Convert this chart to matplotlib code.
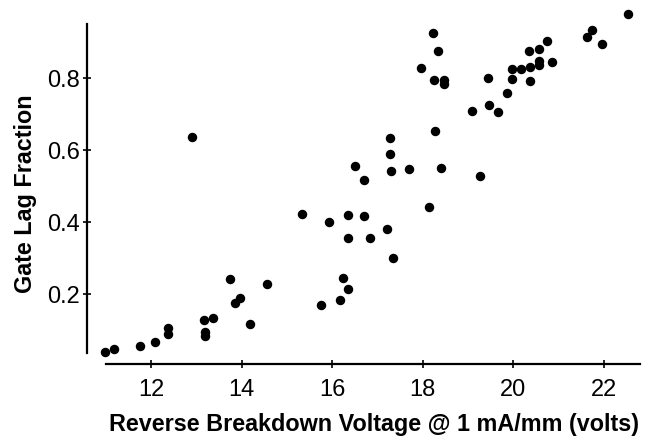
import matplotlib
matplotlib.use("Agg")
import matplotlib.pyplot as plt
import numpy as np

plt.rcParams['font.family'] = ['Liberation Sans', 'DejaVu Sans']

# reverse breakdown voltage (V) and gate lag fraction
voltage = [10.98, 11.19, 11.77, 12.09, 12.37, 12.37, 13.18, 13.37, 13.19, 13.19,
           13.75, 13.86, 13.97, 14.19, 14.57, 12.90, 15.33, 15.76, 15.94, 16.34,
           16.71, 16.34, 16.83, 17.22, 17.34, 16.24, 16.35, 16.18, 16.51, 16.71,
           17.28, 17.28, 17.30, 17.69, 18.13, 18.28, 18.41, 18.23, 18.34, 17.96,
           18.25, 18.47, 18.47, 19.27, 19.09, 19.45, 19.47, 19.67, 19.86, 19.97,
           20.16, 20.37, 19.97, 20.37, 20.35, 20.56, 20.74, 20.57, 20.57, 20.86,
           21.63, 21.74, 21.96, 22.54]
lag = [0.037, 0.048, 0.056, 0.066, 0.106, 0.089, 0.128, 0.132, 0.094, 0.083,
       0.241, 0.175, 0.189, 0.115, 0.226, 0.637, 0.423, 0.170, 0.399, 0.418,
       0.417, 0.356, 0.354, 0.381, 0.299, 0.244, 0.214, 0.184, 0.554, 0.515,
       0.634, 0.588, 0.540, 0.546, 0.440, 0.652, 0.551, 0.924, 0.876, 0.828,
       0.793, 0.793, 0.783, 0.527, 0.708, 0.800, 0.726, 0.706, 0.759, 0.826,
       0.826, 0.830, 0.796, 0.791, 0.876, 0.881, 0.904, 0.846, 0.837, 0.843,
       0.915, 0.933, 0.894, 0.978]

xticks = [12, 14, 16, 18, 20, 22]
yticks = [0.2, 0.4, 0.6, 0.8]

fig = plt.figure(figsize=(6.46, 4.39), dpi=100)
ax = fig.add_axes([0.1347, 0.1686, 0.8599, 0.8073])

ax.plot(voltage, lag, 'o', color='black', markersize=5.8, clip_on=False)

ax.set_xlim(10.59, 22.85)
ax.set_ylim(0.005, 0.99)

for s in ['top', 'right']:
    ax.spines[s].set_visible(False)
ax.spines['left'].set_bounds(0.035, 0.95)
ax.spines['bottom'].set_bounds(11.0, 22.8)
ax.spines['left'].set_linewidth(1.6)
ax.spines['bottom'].set_linewidth(1.6)

ax.set_xticks(xticks)
ax.set_yticks(yticks)
ax.set_xticklabels([str(t) for t in xticks])
ax.set_yticklabels(['%.1f' % t for t in yticks])
ax.tick_params(direction='inout', length=6, width=1.2, labelsize=17)
ax.tick_params(axis='x', pad=7)
ax.tick_params(axis='y', pad=2)

ax.set_xlabel('Reverse Breakdown Voltage @ 1 mA/mm (volts)', fontsize=16.8, fontweight='bold')
ax.set_ylabel('Gate Lag Fraction', fontsize=16.8, fontweight='bold')
ax.xaxis.set_label_coords(0.5167, -0.135)
ax.yaxis.set_label_coords(-0.09, 0.4825)

fig.savefig('out.png', dpi=100)
